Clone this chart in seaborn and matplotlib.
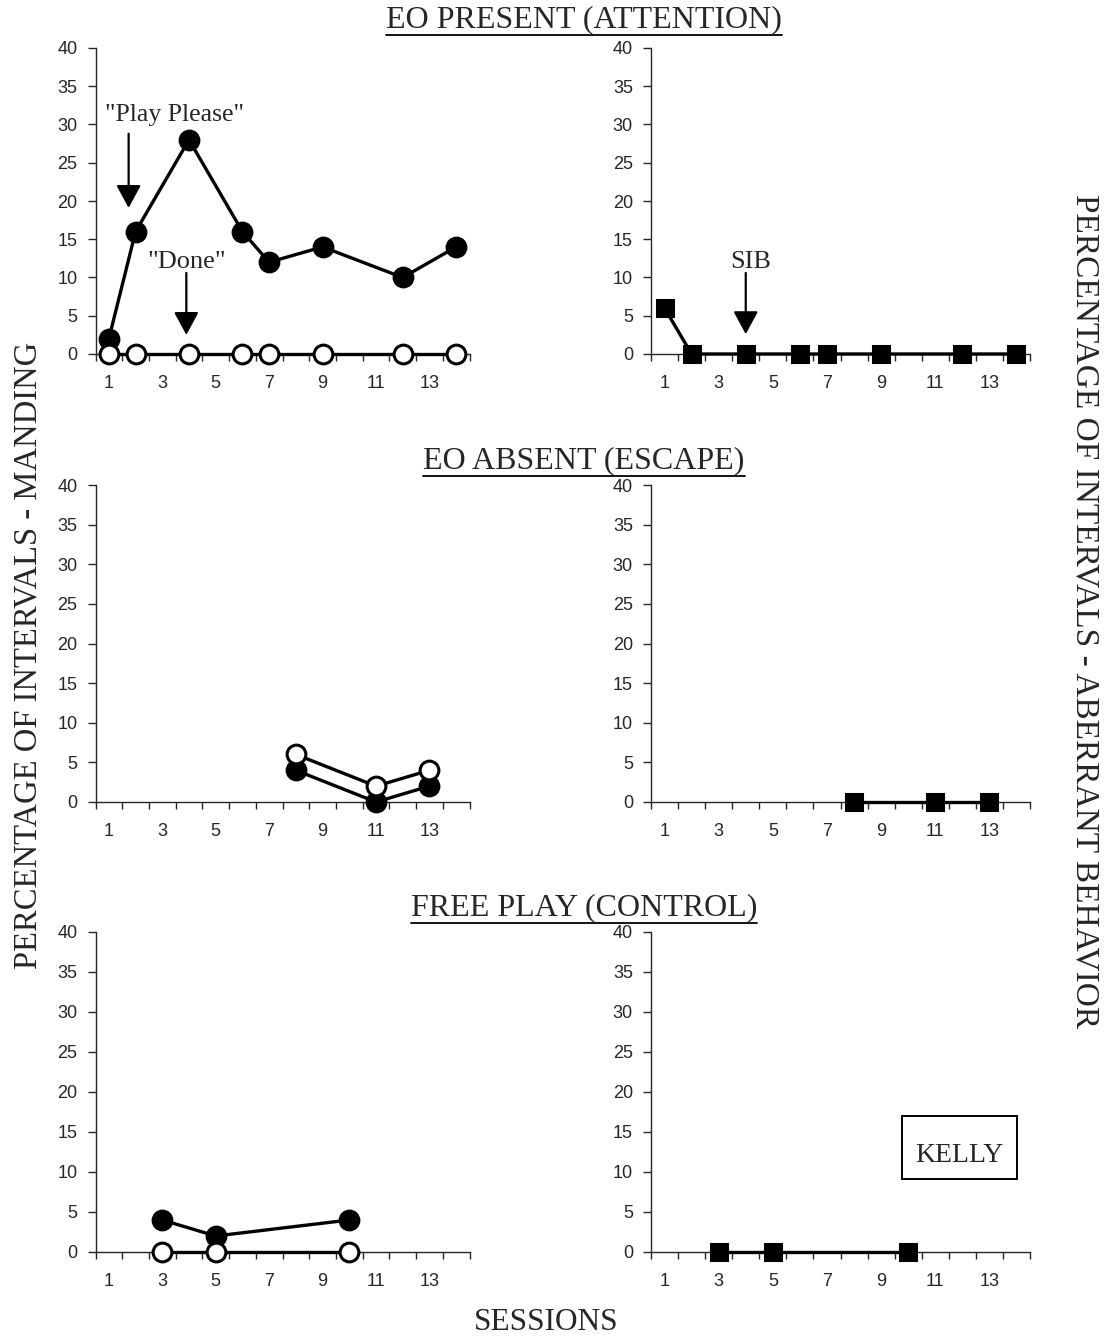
import pandas as pd
import matplotlib
matplotlib.use("Agg")
import matplotlib.pyplot as plt
import seaborn as sns
from matplotlib.lines import Line2D
from matplotlib.patches import Rectangle

sns.set_style("ticks")
plt.rcParams["font.family"] = ["Liberation Sans", "DejaVu Sans"]

# ---- data ----
attn_sessions = [1, 2, 4, 6, 7, 9, 12, 14]
attn_play = [2, 16, 28, 16, 12, 14, 10, 14]
attn_done = [0, 0, 0, 0, 0, 0, 0, 0]
attn_sib = [6, 0, 0, 0, 0, 0, 0, 0]

esc_sessions = [8, 11, 13]
esc_play = [4, 0, 2]
esc_done = [6, 2, 4]
esc_sib = [0, 0, 0]

free_sessions = [3, 5, 10]
free_play = [4, 2, 4]
free_done = [0, 0, 0]
free_sib = [0, 0, 0]

titles = ["EO PRESENT (ATTENTION)", "EO ABSENT (ESCAPE)", "FREE PLAY (CONTROL)"]
x_labels = [1, 3, 5, 7, 9, 11, 13]
y_ticks = [0, 5, 10, 15, 20, 25, 30, 35, 40]

rows = [
    (attn_sessions, attn_play, attn_done, attn_sib),
    (esc_sessions, esc_play, esc_done, esc_sib),
    (free_sessions, free_play, free_done, free_sib),
]

W, H = 1108, 1342
fig = plt.figure(figsize=(W / 100, H / 100), dpi=100)

# pixel boxes (left, right) and (top, bottom)
cols_px = [(95.5, 469.5), (651, 1030)]
rows_px = [(48, 354), (485, 802), (932, 1252)]

serif = ["Liberation Serif", "DejaVu Serif"]
line_kw = dict(color="black", linewidth=2.4, markeredgecolor="black", markersize=13.5,
               markeredgewidth=2.2, legend=False)


def make_axes(col, row):
    (x0, x1), (y0, y1) = cols_px[col], rows_px[row]
    ax = fig.add_axes([x0 / W, 1 - y1 / H, (x1 - x0) / W, (y1 - y0) / H])
    ax.set_xlim(0.5, 14.5)
    ax.set_ylim(0, 40)
    ax.set_xticks(x_labels)
    ax.set_xticks([i + 0.5 for i in range(0, 15)], minor=True)
    ax.tick_params(axis="x", which="major", length=0, pad=15, labelsize=13)
    ax.tick_params(axis="x", which="minor", length=5, width=1, direction="out")
    ax.set_yticks(y_ticks)
    ax.tick_params(axis="y", length=6, width=1, direction="out", labelsize=13, pad=7)
    sns.despine(ax=ax)
    for s in ("left", "bottom"):
        ax.spines[s].set_linewidth(1.0)
    return ax


axes = []
for r, (sess, play, done, sib) in enumerate(rows):
    df = pd.DataFrame({"session": sess, "play": play, "done": done, "sib": sib})
    axl = make_axes(0, r)
    sns.lineplot(data=df, x="session", y="play", marker="o", markerfacecolor="black",
                 ax=axl, zorder=3, **line_kw)
    sns.lineplot(data=df, x="session", y="done", marker="o", markerfacecolor="white",
                 ax=axl, zorder=4, **line_kw)
    axr = make_axes(1, r)
    sns.lineplot(data=df, x="session", y="sib", marker="s", markerfacecolor="black",
                 ax=axr, zorder=3, **{**line_kw, "markersize": 12})
    for a in (axl, axr):
        a.set_xlabel("")
        a.set_ylabel("")
        for ln in a.lines:
            ln.set_clip_on(False)
    axes.append((axl, axr))

# annotations with arrows
arrow = dict(arrowstyle="-|>,head_length=0.7,head_width=0.38", color="black", lw=1.6,
             mutation_scale=20, shrinkA=0, shrinkB=0)
tl, tr = axes[0]
tl.annotate("", xy=(1.74, 19.1), xytext=(1.74, 28.8), arrowprops=arrow)
tl.text(3.45, 31.3, '"Play Please"', ha="center", va="center", fontsize=18.5, family=serif)
tl.annotate("", xy=(3.9, 2.5), xytext=(3.9, 10.6), arrowprops=arrow)
tl.text(3.9, 12.0, '"Done"', ha="center", va="center", fontsize=19, family=serif)
tr.annotate("", xy=(4, 2.6), xytext=(4, 10.6), arrowprops=arrow)
tr.text(4.2, 12.0, "SIB", ha="center", va="center", fontsize=19, family=serif)

br = axes[2][1]
br.add_patch(Rectangle((0.662, 0.228), 0.303, 0.197, transform=br.transAxes,
                       facecolor="white", edgecolor="black", lw=1.4, zorder=5))
br.text(0.814, 0.30, "KELLY", transform=br.transAxes, ha="center", va="center",
        fontsize=20, family=serif, zorder=6)

# section titles (underlined)
title_base = [27, 468, 915]
for t, yp in zip(titles, title_base):
    fig.text(584 / W, 1 - yp / H, t, ha="center", va="baseline", fontsize=23, family=serif)

fig.text(28 / W, 1 - 655 / H, "PERCENTAGE OF INTERVALS - MANDING", rotation=90,
         ha="center", va="center", fontsize=23.5, family=serif)
fig.text(1085 / W, 1 - 611 / H, "PERCENTAGE OF INTERVALS - ABERRANT BEHAVIOR", rotation=-90,
         ha="center", va="center", fontsize=24, family=serif)
fig.text(546 / W, 1 - 1322 / H, "SESSIONS", ha="center", va="center", fontsize=22.5,
         family=serif)

fig.canvas.draw()
renderer = fig.canvas.get_renderer()
for t in fig.texts[:3]:
    bb = t.get_window_extent(renderer).transformed(fig.transFigure.inverted())
    x_pos, y_pos = t.get_position()
    yl = y_pos - 8 / H
    fig.add_artist(Line2D([bb.x0, bb.x1], [yl, yl], color="black", lw=1.3,
                          transform=fig.transFigure))

fig.savefig("out.png", dpi=100)
